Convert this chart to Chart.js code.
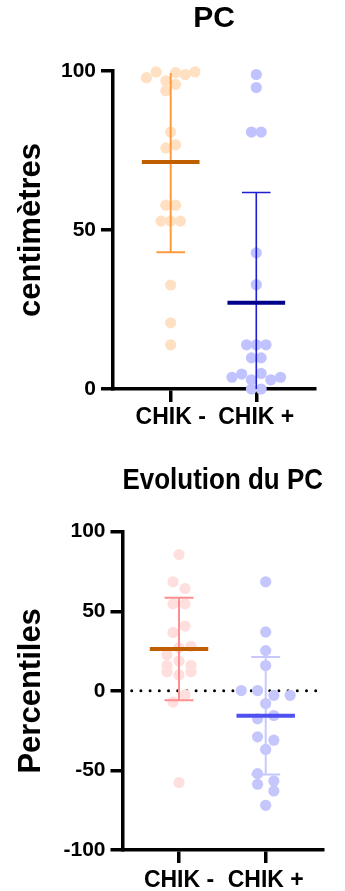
<!DOCTYPE html>
<html>
<head>
<meta charset="utf-8">
<title>PC - CHIK</title>
<script src="https://cdn.jsdelivr.net/npm/chart.js@4.4.1/dist/chart.umd.min.js"></script>
<style>
  body { margin: 0; background: #fff; }
  #wrap { position: relative; width: 345px; height: 891px; }
  canvas { position: absolute; left: 0; }
  #pcChart { top: 0; }
  #evoChart { top: 440px; }
</style>
</head>
<body>
<div id="wrap">
  <canvas id="pcChart" width="345" height="440"></canvas>
  <canvas id="evoChart" width="345" height="451"></canvas>
</div>
<script>
const groups = ["CHIK -", "CHIK +"];

// PC, centimetres
const pcNeg = [97.9, 99.7, 96.9, 99.5, 98.9, 99.7, 93.8, 95.8, 80.8, 75.8, 76.8, 57.8, 57.8, 52.8, 52.8, 52.8, 32.7, 20.8, 13.9];
const pcPos = [98.9, 94.8, 80.8, 80.8, 42.8, 32.8, 13.9, 13.9, 13.9, 9.8, 9.8, 3.7, 4.7, 2.9, 4.9, 2.9, 3.7, 0, 0];
const pcTicks = [0, 50, 100];

// Evolution du PC, percentiles
const evoNeg = [85.6, 68.5, 64.3, 54.7, 54.7, 36.7, 40.7, 22.7, 27.0, 28.0, 15.9, 18.8, 15.9, 11.9, 10.0, 11.9, -7.1, -2.5, -57.6];
const evoPos = [68.5, 37.0, 25.3, 15.9, 0.2, 0.2, -2.8, -2.8, -8.0, -17.6, -15.5, -28.9, -31.0, -36.8, -52.0, -56.6, -58.7, -62.9, -71.9];
const evoTicks = [-100, -50, 0, 50, 100];

const FONT = "'Liberation Sans', Arial, Helvetica, sans-serif";
const MEAN_HALF = 0.337;
const CAP_HALF = 0.167;

function mean(a) {
    return a.reduce((s, v) => s + v, 0) / a.length;
}

function sd(a) {
    const m = mean(a);
    return Math.sqrt(a.reduce((s, v) => s + (v - m) ** 2, 0) / (a.length - 1));
}

// group points that sit close vertically into rows, spread each row symmetrically
function swarm(values, toPx, spacing, rowPx) {
    const pts = values.map((v, i) => ({ i, py: toPx(v) }));
    pts.sort((a, b) => a.py - b.py || a.i - b.i);
    const off = values.map(() => 0);
    let row = [];
    const flush = () => {
        row.sort((a, b) => a.i - b.i);
        row.forEach((p, k) => { off[p.i] = (k - (row.length - 1) / 2) * spacing; });
        row = [];
    };
    for (const p of pts) {
        if (row.length && p.py - row[0].py >= rowPx) {
            flush();
        }
        row.push(p);
    }
    flush();
    return off;
}

function makeChart(cfg) {
    const datasets = [];
    const dotIndex = [];
    cfg.series.forEach((s, i) => {
        const c = i + 1;
        const m = mean(s.values);
        const d = sd(s.values);
        datasets.push({
            data: [
                { x: c - MEAN_HALF, y: m },
                { x: c + MEAN_HALF, y: m },
            ],
            showLine: true,
            borderColor: s.meanColor,
            borderWidth: 4,
            pointRadius: 0,
            order: 0,
        });
        datasets.push({
            data: [
                { x: c, y: m - d }, { x: c, y: m + d }, { x: c, y: null },
                { x: c - CAP_HALF, y: m + d }, { x: c + CAP_HALF, y: m + d }, { x: c, y: null },
                { x: c - CAP_HALF, y: m - d }, { x: c + CAP_HALF, y: m - d },
            ],
            showLine: true,
            spanGaps: false,
            borderColor: s.errColor,
            borderWidth: s.errWidth,
            pointRadius: 0,
            clip: cfg.errClip,
            order: 1,
        });
        dotIndex.push(datasets.length);
        datasets.push({
            data: s.values.map((v) => ({ x: c, y: v })),
            backgroundColor: s.dotColor,
            pointRadius: 5.6,
            pointBorderWidth: 0,
            clip: false,
            order: 3,
        });
    });
    if (cfg.zeroLine) {
        datasets.push({
            data: [{ x: cfg.xMin, y: 0 }, { x: cfg.xMax, y: 0 }],
            showLine: true,
            borderColor: "#000",
            borderWidth: 3,
            borderDash: [0, 9.2],
            borderCapStyle: "round",
            pointRadius: 0,
            order: 5,
        });
    }

    const gridStyle = (len) => ({
        display: true,
        drawOnChartArea: false,
        drawTicks: true,
        tickLength: len,
        lineWidth: 3.5,
        tickWidth: 3.5,
        tickColor: "#000",
    });

    const chart = new Chart(document.getElementById(cfg.el), {
        type: "scatter",
        data: { datasets },
        options: {
            responsive: false,
            animation: false,
            layout: { padding: { left: 0, right: cfg.rightPad, top: 0, bottom: 0 } },
            plugins: {
                legend: { display: false },
                tooltip: { enabled: false },
                title: {
                    display: true,
                    text: cfg.title,
                    fullSize: false,
                    color: "#000",
                    font: { family: FONT, size: 30, weight: "bold" },
                    padding: cfg.titlePad,
                },
            },
            scales: {
                x: {
                    type: "linear",
                    min: cfg.xMin,
                    max: cfg.xMax,
                    afterBuildTicks: (s) => { s.ticks = groups.map((g, i) => ({ value: i + 1 })); },
                    afterFit: (s) => { s.height = cfg.xHeight; },
                    ticks: {
                        autoSkip: false,
                        maxRotation: 0,
                        padding: cfg.xLabelPad,
                        color: "#000",
                        font: { family: FONT, size: 23, weight: "bold" },
                        callback: (v) => groups[Math.round(v) - 1],
                    },
                    grid: gridStyle(13),
                    border: { display: true, width: 3.5, color: "#000" },
                },
                y: {
                    type: "linear",
                    min: cfg.ticks[0],
                    max: cfg.ticks[cfg.ticks.length - 1],
                    afterBuildTicks: (s) => { s.ticks = cfg.ticks.map((v) => ({ value: v })); },
                    afterFit: (s) => { s.width = cfg.yWidth; },
                    ticks: {
                        padding: 5,
                        color: "#000",
                        font: { family: FONT, size: 21, weight: "bold" },
                    },
                    grid: gridStyle(12),
                    border: { display: true, width: 3.5, color: "#000" },
                    title: {
                        display: true,
                        text: cfg.yTitle,
                        color: "#000",
                        font: { family: FONT, size: 31, weight: "bold" },
                        padding: { top: 12.7, bottom: 0 },
                    },
                },
            },
        },
    });

    // jitter the dots now that the scales know their pixel sizes
    const xs = chart.scales.x;
    const ys = chart.scales.y;
    const unit = xs.getPixelForValue(2) - xs.getPixelForValue(1);
    cfg.series.forEach((s, i) => {
        const off = swarm(s.values, (v) => ys.getPixelForValue(v), s.spacing, 10);
        chart.data.datasets[dotIndex[i]].data = s.values.map((v, k) => ({ x: i + 1 + off[k] / unit, y: v }));
    });
    chart.update("none");
    return chart;
}

makeChart({
    el: "pcChart",
    title: "PC",
    yTitle: "centimètres",
    ticks: pcTicks,
    xMin: 0.326,
    xMax: 2.686,
    yWidth: 113,
    xHeight: 51,
    rightPad: 30,
    xLabelPad: 2,
    titlePad: { top: 1, bottom: 34 },
    errClip: { left: 0, right: 0, top: -2, bottom: 0 },
    zeroLine: false,
    series: [
        { values: pcNeg, dotColor: "#FFE0C2", errColor: "#FF9A3C", errWidth: 2, meanColor: "#C05F00", spacing: 9.7 },
        { values: pcPos, dotColor: "#C0C3FF", errColor: "#1E1ED2", errWidth: 1.6, meanColor: "#00008B", spacing: 9.7 },
    ],
});

makeChart({
    el: "evoChart",
    title: "Evolution du PC",
    yTitle: "Percentiles",
    ticks: evoTicks,
    xMin: 0.348,
    xMax: 2.661,
    yWidth: 122.5,
    xHeight: 41,
    rightPad: 22,
    xLabelPad: 4,
    titlePad: { top: 23, bottom: 32.7 },
    errClip: { left: 0, right: 0, top: 0, bottom: 0 },
    zeroLine: true,
    series: [
        { values: evoNeg, dotColor: "#FFDEDE", errColor: "#FF8F8F", errWidth: 2, meanColor: "#C05F00", spacing: 12 },
        { values: evoPos, dotColor: "#C5C6FC", errColor: "#C6C8FF", errWidth: 2, meanColor: "#5050F0", spacing: 16.3 },
    ],
});
</script>
</body>
</html>
